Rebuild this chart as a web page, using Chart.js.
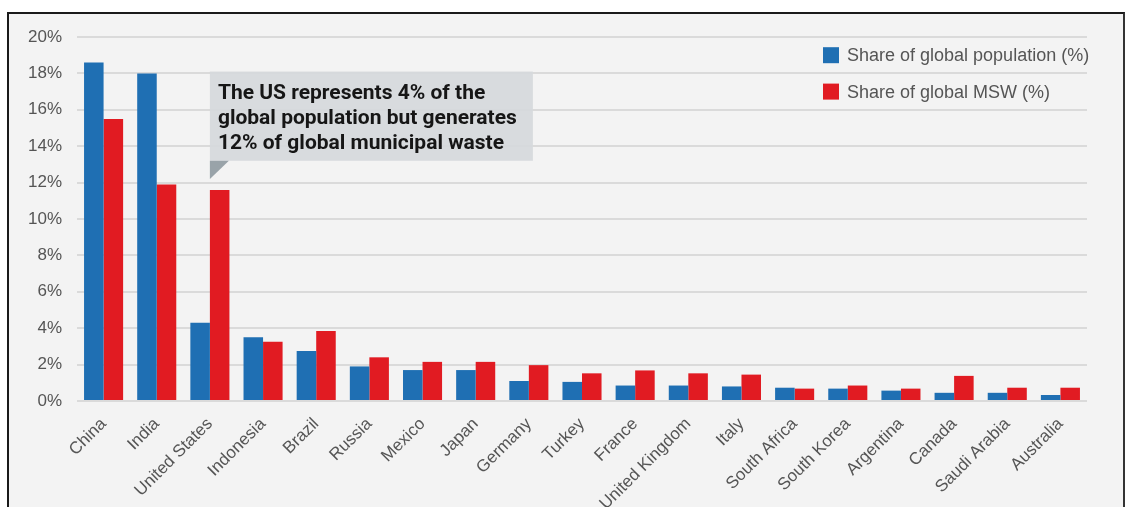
<!DOCTYPE html>
<html>
<head>
<meta charset="utf-8">
<script src="https://cdn.jsdelivr.net/npm/chart.js@4.4.0/dist/chart.umd.min.js"></script>
<style>
    html, body { margin: 0; padding: 0; background: #fff; }
    body { width: 1125px; height: 507px; position: relative; overflow: hidden; }
    #frame {
        position: absolute; left: 7px; top: 12px; width: 1114px; height: 500px;
        border-left: 2px solid #1a1a1a; border-top: 2px solid #1a1a1a; border-right: 2px solid #333;
        background: #f3f3f3;
    }
    #chart { position: absolute; left: 0; top: 0; }
</style>
</head>
<body>
<div id="frame"></div>
<canvas id="chart" width="1125" height="507"></canvas>
<script>
const countries = ['China', 'India', 'United States', 'Indonesia', 'Brazil', 'Russia', 'Mexico', 'Japan', 'Germany',
    'Turkey', 'France', 'United Kingdom', 'Italy', 'South Africa', 'South Korea', 'Argentina', 'Canada', 'Saudi Arabia', 'Australia'];
const populationShare = [18.6, 18.0, 4.3, 3.5, 2.75, 1.9, 1.7, 1.7, 1.1, 1.05, 0.85, 0.85, 0.8, 0.73, 0.68, 0.57, 0.45, 0.45, 0.33];
const mswShare = [15.5, 11.9, 11.6, 3.25, 3.85, 2.4, 2.15, 2.15, 1.97, 1.52, 1.68, 1.52, 1.45, 0.68, 0.85, 0.68, 1.38, 0.73, 0.73];
const yTicks = [0, 2, 4, 6, 8, 10, 12, 14, 16, 18, 20];
const noteLines = ['The US represents 4% of the', 'global population but generates', '12% of global municipal waste'];

const BLUE = '#1f6fb3';
const RED = '#e11b22';
const FONT = '"Liberation Sans", Arial, sans-serif';

// legend and callout sit inside the plot, so draw them by hand
const overlayPlugin = {
    id: 'overlay',
    afterDraw(chart) {
        const ctx = chart.ctx;
        const x = chart.scales.x;
        const y = chart.scales.y;
        ctx.save();

        // callout box pointing at the US bars
        const bx = x.getPixelForValue(2);
        const top = y.getPixelForValue(18.1);
        const bottom = y.getPixelForValue(13.2);
        ctx.fillStyle = 'rgba(214,217,220,0.95)';
        ctx.fillRect(bx, top, 323, bottom - top);
        ctx.fillStyle = '#99a3a9';
        ctx.beginPath();
        ctx.moveTo(bx, bottom);
        ctx.lineTo(bx + 19, bottom);
        ctx.lineTo(bx, y.getPixelForValue(12.2));
        ctx.closePath();
        ctx.fill();
        ctx.fillStyle = '#161616';
        ctx.font = 'bold 21px Roboto';
        ctx.textBaseline = 'alphabetic';
        noteLines.forEach((line, i) => {
            ctx.fillText(line, bx + 8, top + 27 + i * 25);
        });

        // legend
        const lx = chart.chartArea.right - 264;
        ctx.font = '18px ' + FONT;
        ctx.textBaseline = 'middle';
        chart.data.datasets.forEach((ds, i) => {
            const cy = y.getPixelForValue(19 - 2 * i);
            ctx.fillStyle = ds.backgroundColor;
            ctx.fillRect(lx, cy - 8, 16, 16);
            ctx.fillStyle = '#555';
            ctx.fillText(ds.label, lx + 24, cy + 1);
        });
        ctx.restore();
    }
};

new Chart(document.getElementById('chart'), {
    type: 'bar',
    data: {
        labels: countries,
        datasets: [
            { label: 'Share of global population (%)', data: populationShare, backgroundColor: BLUE },
            { label: 'Share of global MSW (%)', data: mswShare, backgroundColor: RED }
        ]
    },
    options: {
        responsive: false,
        animation: false,
        devicePixelRatio: 1,
        layout: { padding: { top: 37, right: 38, left: 0, bottom: 0 } },
        datasets: {
            bar: { categoryPercentage: 0.735, barPercentage: 1.0 }
        },
        plugins: {
            legend: { display: false },
            tooltip: { enabled: false }
        },
        scales: {
            x: {
                grid: { display: false, drawTicks: false },
                border: { display: false },
                ticks: {
                    color: '#555',
                    font: { family: FONT, size: 17 },
                    minRotation: 45,
                    maxRotation: 45,
                    padding: 13,
                    autoSkip: false
                },
                afterFit: (scale) => { scale.height = 106; }
            },
            y: {
                min: 0,
                max: 20,
                afterBuildTicks: (scale) => { scale.ticks = yTicks.map(v => ({ value: v })); },
                grid: { color: '#dadada', lineWidth: 2, drawTicks: false },
                border: { display: false },
                ticks: {
                    color: '#555',
                    font: { family: FONT, size: 17 },
                    padding: 15,
                    callback: (v) => v + '%'
                },
                afterFit: (scale) => { scale.width = 77; }
            }
        }
    },
    plugins: [overlayPlugin]
});
</script>
</body>
</html>
